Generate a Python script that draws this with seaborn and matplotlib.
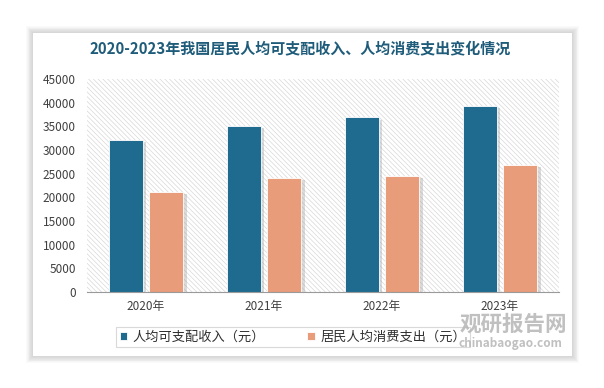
import matplotlib
matplotlib.use("Agg")
import matplotlib.pyplot as plt
import matplotlib.patches as mpatches
import matplotlib.patheffects as pe
import seaborn as sns
import pandas as pd

years = ["2020年", "2021年", "2022年", "2023年"]
income = [32189, 35128, 36883, 39218]
consumption = [21210, 24100, 24538, 26796]
series_names = ["人均可支配收入（元）", "居民人均消费支出（元）"]
title = "2020-2023年我国居民人均可支配收入、人均消费支出变化情况"

df = pd.DataFrame({
    "year": years * 2,
    "value": income + consumption,
    "series": [series_names[0]] * 4 + [series_names[1]] * 4,
})

sns.set_theme(style="white")
plt.rcParams["font.family"] = ["Noto Sans CJK SC", "DejaVu Sans"]
plt.rcParams["hatch.linewidth"] = 0.5
plt.rcParams["hatch.color"] = "#d8d8d8"

W, H = 604, 388
fig = plt.figure(figsize=(W / 100, H / 100), dpi=100)
fig.patch.set_facecolor("white")

# card with soft shadow
cx0, cx1, cy0, cy1 = 33 / W, 572 / W, 1 - 356 / H, 1 - 33 / H
for i in range(8):
    d = (8 - i) * 0.9
    fig.patches.append(mpatches.Rectangle((cx0 - d / W, cy0 - d / H), (cx1 - cx0) + 2 * d / W,
                                          (cy1 - cy0) + 2 * d / H, transform=fig.transFigure,
                                          facecolor="#000000", alpha=0.018, edgecolor="none", zorder=-3))
fig.patches.append(mpatches.Rectangle((cx0, cy0), cx1 - cx0, cy1 - cy0, transform=fig.transFigure,
                                      facecolor="white", edgecolor="none", zorder=-2))

ax = fig.add_axes([87 / W, 1 - 292 / H, (559 - 87) / W, (292 - 79) / H])
ax.set_facecolor("none")
ax.add_patch(mpatches.Rectangle((0, 0), 1, 1, transform=ax.transAxes, facecolor="white",
                                hatch="\\\\\\\\\\\\\\", edgecolor="#d8d8d8", linewidth=0, zorder=0))

palette = {series_names[0]: "#1f6b8f", series_names[1]: "#e99c7a"}
sns.barplot(data=df, x="year", y="value", hue="series", palette=palette, ax=ax,
            width=0.69, gap=0.16, saturation=1, edgecolor="white", linewidth=0.6,
            legend=True, zorder=3)
for p in ax.patches:
    if isinstance(p, mpatches.Rectangle) and p.get_height() > 0 and p.get_width() < 1:
        p.set_path_effects([pe.SimplePatchShadow(offset=(2.5, -1.5), shadow_rgbFace="#999999", alpha=0.35),
                            pe.Normal()])

ax.set_ylim(0, 45000)
ax.set_yticks(range(0, 45001, 5000))
ax.set_xlim(-0.5, 3.5)
ax.set_xlabel("")
ax.set_ylabel("")
ax.tick_params(axis="y", labelsize=8.5, labelcolor="#404040", length=0, pad=8)
ax.tick_params(axis="x", labelsize=8.5, labelcolor="#404040", length=0, pad=6)
for s in ["top", "right", "left"]:
    ax.spines[s].set_visible(False)
ax.spines["bottom"].set_color("#9a9a9a")
ax.spines["bottom"].set_linewidth(0.8)
ax.spines["bottom"].set_zorder(4)
ax.grid(False)

handles, labels = ax.get_legend_handles_labels()
leg = ax.legend(handles, labels, loc="center", bbox_to_anchor=((293 - 87) / (559 - 87), (292 - 337) / (292 - 79)),
                ncol=2, frameon=True, fontsize=9.5, handlelength=0.55, handleheight=0.55,
                handletextpad=0.45, columnspacing=3.2, borderpad=0.3, fancybox=False,
                borderaxespad=0)
leg.get_frame().set_edgecolor("#d0d0d0")
leg.get_frame().set_linewidth(0.8)
for t in leg.get_texts():
    t.set_color("#303030")

fig.text(300 / W, 1 - 48 / H, title, ha="center", va="center", fontsize=10.8,
         fontweight="bold", color="#1f5c7a", zorder=5)

# watermark
fig.text(513 / W, 1 - 324 / H, "观研报告网", ha="center", va="center", fontsize=15.5,
         fontweight="bold", color="#b5b5b5", alpha=0.85, zorder=6)
fig.text(510 / W, 1 - 344 / H, "chinabaogao.com", ha="center", va="center", fontsize=8.5,
         fontweight="bold", color="#b5b5b5", alpha=0.85, zorder=6)

fig.savefig("out.png", dpi=100)
